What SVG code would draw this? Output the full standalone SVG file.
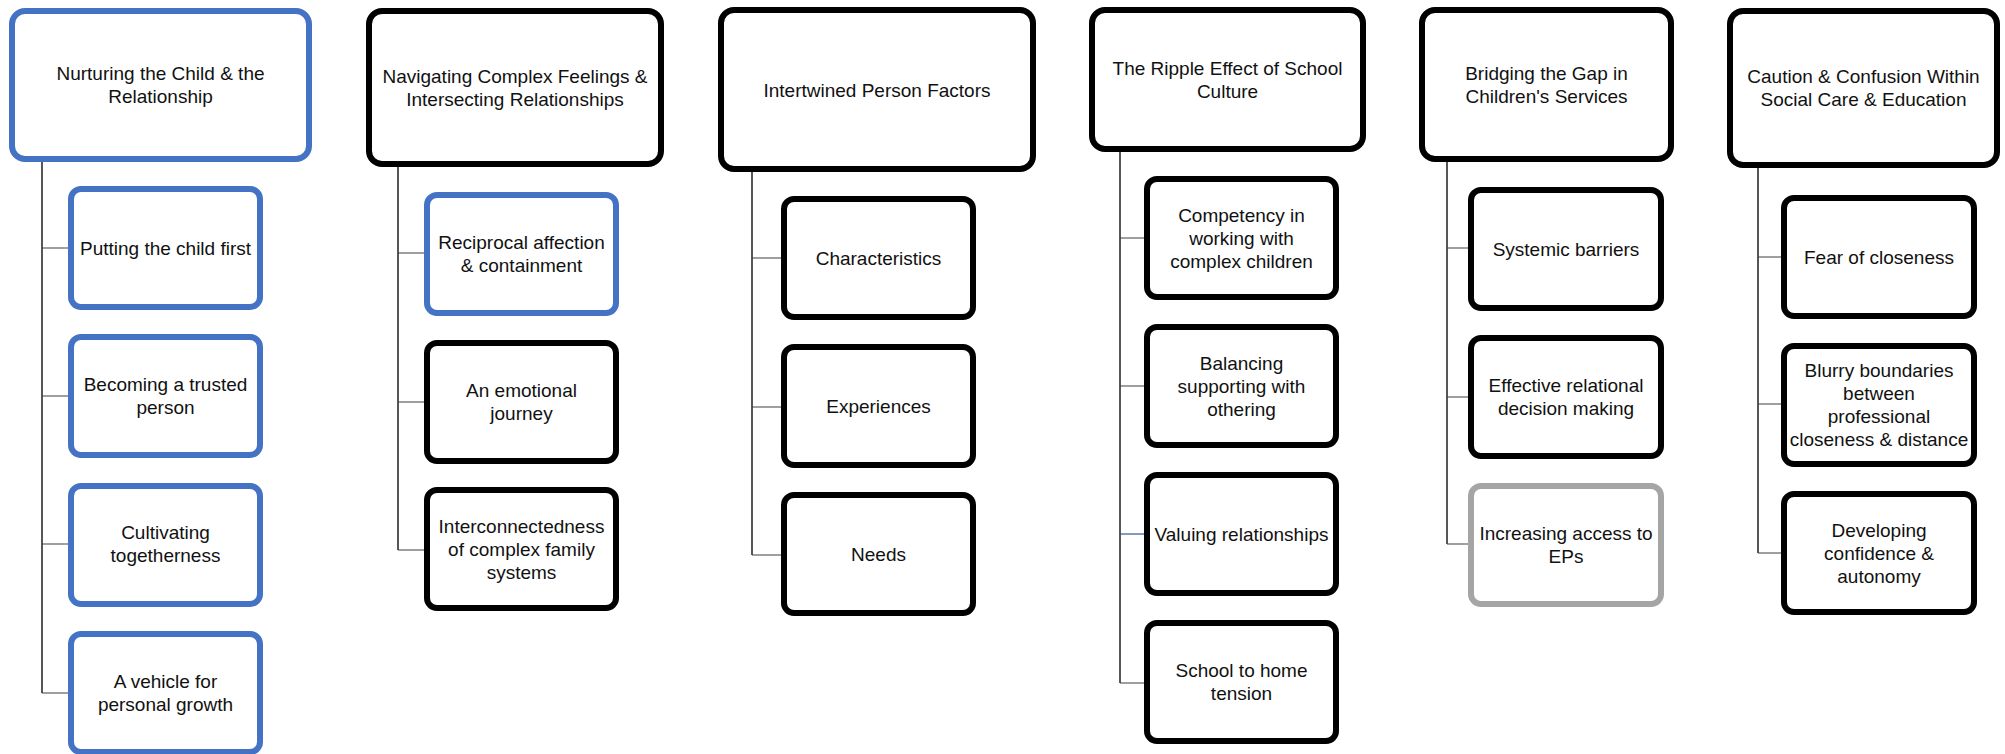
<svg xmlns="http://www.w3.org/2000/svg" width="2005" height="754" viewBox="0 0 2005 754">
  <style>
    .box { fill: #ffffff; stroke: #000000; stroke-width: 6; }
    .blue { stroke: #4472C4; }
    .grey { stroke: #A5A5A5; }
    .trunk { fill: none; stroke: #1f1f1f; stroke-width: 1.5; }
    .branch { fill: none; stroke: #404040; stroke-width: 1.2; }
    .branch-blue { fill: none; stroke: #2F5597; stroke-width: 1.2; }
    text { font-family: "Liberation Sans", Arial, sans-serif; font-size: 19px; fill: #111111; text-anchor: middle; }
  </style>

  <!-- connectors: vertical trunk from each heading, horizontal branch to each sub-theme -->
  <g id="connectors">
    <path class="trunk" d="M42 162 V693"/>
    <path class="branch" d="M42 248 H68 M42 396 H68 M42 544 H68 M42 693 H68"/>

    <path class="trunk" d="M398 167 V550"/>
    <path class="branch" d="M398 253 H424 M398 402 H424 M398 550 H424"/>

    <path class="trunk" d="M752 172 V555"/>
    <path class="branch" d="M752 258 H781 M752 407 H781 M752 555 H781"/>

    <path class="trunk" d="M1120 152 V683"/>
    <path class="branch" d="M1120 238 H1144 M1120 386 H1144 M1120 683 H1144"/>
    <path class="branch-blue" d="M1120 534 H1144"/>

    <path class="trunk" d="M1447 162 V544"/>
    <path class="branch" d="M1447 248 H1468 M1447 397 H1468 M1447 544 H1468"/>

    <path class="trunk" d="M1758 168 V553"/>
    <path class="branch" d="M1758 257 H1781 M1758 404 H1781 M1758 553 H1781"/>
  </g>

  <!-- column 1 -->
  <g id="nurturing">
    <rect class="box blue" x="12" y="11" width="297" height="148" rx="13"/>
    <text x="160.5" y="80">Nurturing the Child &amp; the</text>
    <text x="160.5" y="103">Relationship</text>
  </g>
  <g id="putting-child-first">
    <rect class="box blue" x="71" y="189" width="189" height="118" rx="10"/>
    <text x="165.5" y="255">Putting the child first</text>
  </g>
  <g id="trusted-person">
    <rect class="box blue" x="71" y="337" width="189" height="118" rx="10"/>
    <text x="165.5" y="391">Becoming a trusted</text>
    <text x="165.5" y="414">person</text>
  </g>
  <g id="togetherness">
    <rect class="box blue" x="71" y="486" width="189" height="118" rx="10"/>
    <text x="165.5" y="539">Cultivating</text>
    <text x="165.5" y="562">togetherness</text>
  </g>
  <g id="personal-growth">
    <rect class="box blue" x="71" y="634" width="189" height="118" rx="10"/>
    <text x="165.5" y="688">A vehicle for</text>
    <text x="165.5" y="711">personal growth</text>
  </g>

  <!-- column 2 -->
  <g id="complex-feelings">
    <rect class="box" x="369" y="11" width="292" height="153" rx="13"/>
    <text x="515" y="83">Navigating Complex Feelings &amp;</text>
    <text x="515" y="106">Intersecting Relationships</text>
  </g>
  <g id="reciprocal-affection">
    <rect class="box blue" x="427" y="195" width="189" height="118" rx="10"/>
    <text x="521.5" y="249">Reciprocal affection</text>
    <text x="521.5" y="272">&amp; containment</text>
  </g>
  <g id="emotional-journey">
    <rect class="box" x="427" y="343" width="189" height="118" rx="10"/>
    <text x="521.5" y="397">An emotional</text>
    <text x="521.5" y="420">journey</text>
  </g>
  <g id="family-systems">
    <rect class="box" x="427" y="490" width="189" height="118" rx="10"/>
    <text x="521.5" y="533">Interconnectedness</text>
    <text x="521.5" y="556">of complex family</text>
    <text x="521.5" y="579">systems</text>
  </g>

  <!-- column 3 -->
  <g id="person-factors">
    <rect class="box" x="721" y="10" width="312" height="159" rx="13"/>
    <text x="877" y="97">Intertwined Person Factors</text>
  </g>
  <g id="characteristics">
    <rect class="box" x="784" y="199" width="189" height="118" rx="10"/>
    <text x="878.5" y="265">Characteristics</text>
  </g>
  <g id="experiences">
    <rect class="box" x="784" y="347" width="189" height="118" rx="10"/>
    <text x="878.5" y="413">Experiences</text>
  </g>
  <g id="needs">
    <rect class="box" x="784" y="495" width="189" height="118" rx="10"/>
    <text x="878.5" y="561">Needs</text>
  </g>

  <!-- column 4 -->
  <g id="school-culture">
    <rect class="box" x="1092" y="10" width="271" height="139" rx="13"/>
    <text x="1227.5" y="75">The Ripple Effect of School</text>
    <text x="1227.5" y="98">Culture</text>
  </g>
  <g id="competency">
    <rect class="box" x="1147" y="179" width="189" height="118" rx="10"/>
    <text x="1241.5" y="222">Competency in</text>
    <text x="1241.5" y="245">working with</text>
    <text x="1241.5" y="268">complex children</text>
  </g>
  <g id="balancing">
    <rect class="box" x="1147" y="327" width="189" height="118" rx="10"/>
    <text x="1241.5" y="370">Balancing</text>
    <text x="1241.5" y="393">supporting with</text>
    <text x="1241.5" y="416">othering</text>
  </g>
  <g id="valuing-relationships">
    <rect class="box" x="1147" y="475" width="189" height="118" rx="10"/>
    <text x="1241.5" y="541">Valuing relationships</text>
  </g>
  <g id="school-home-tension">
    <rect class="box" x="1147" y="623" width="189" height="118" rx="10"/>
    <text x="1241.5" y="677">School to home</text>
    <text x="1241.5" y="700">tension</text>
  </g>

  <!-- column 5 -->
  <g id="childrens-services">
    <rect class="box" x="1422" y="10" width="249" height="149" rx="13"/>
    <text x="1546.5" y="80">Bridging the Gap in</text>
    <text x="1546.5" y="103">Children's Services</text>
  </g>
  <g id="systemic-barriers">
    <rect class="box" x="1471" y="190" width="190" height="118" rx="10"/>
    <text x="1566" y="256">Systemic barriers</text>
  </g>
  <g id="decision-making">
    <rect class="box" x="1471" y="338" width="190" height="118" rx="10"/>
    <text x="1566" y="392">Effective relational</text>
    <text x="1566" y="415">decision making</text>
  </g>
  <g id="access-to-eps">
    <rect class="box grey" x="1471" y="486" width="190" height="118" rx="10"/>
    <text x="1566" y="540">Increasing access to</text>
    <text x="1566" y="563">EPs</text>
  </g>

  <!-- column 6 -->
  <g id="social-care-education">
    <rect class="box" x="1730" y="11" width="267" height="154" rx="13"/>
    <text x="1863.5" y="83">Caution &amp; Confusion Within</text>
    <text x="1863.5" y="106">Social Care &amp; Education</text>
  </g>
  <g id="fear-of-closeness">
    <rect class="box" x="1784" y="198" width="190" height="118" rx="10"/>
    <text x="1879" y="264">Fear of closeness</text>
  </g>
  <g id="blurry-boundaries">
    <rect class="box" x="1784" y="346" width="190" height="118" rx="10"/>
    <text x="1879" y="377">Blurry boundaries</text>
    <text x="1879" y="400">between</text>
    <text x="1879" y="423">professional</text>
    <text x="1879" y="446">closeness &amp; distance</text>
  </g>
  <g id="confidence-autonomy">
    <rect class="box" x="1784" y="494" width="190" height="118" rx="10"/>
    <text x="1879" y="537">Developing</text>
    <text x="1879" y="560">confidence &amp;</text>
    <text x="1879" y="583">autonomy</text>
  </g>
</svg>
